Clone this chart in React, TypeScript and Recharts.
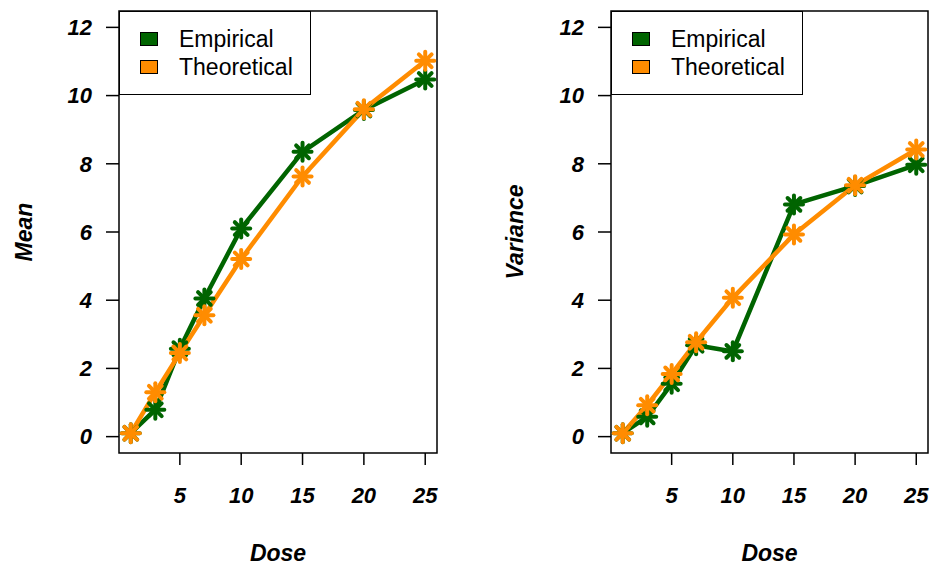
import React from "react";
import { Line, LineChart, ReferenceArea, XAxis, YAxis } from "recharts";

const doses = [1, 3, 5, 7, 10, 15, 20, 25];
const meanEmpirical = [0.1, 0.79, 2.58, 4.05, 6.1, 8.35, 9.58, 10.47];
const meanTheoretical = [0.1, 1.3, 2.45, 3.56, 5.21, 7.63, 9.6, 11.02];
const varEmpirical = [0.1, 0.58, 1.55, 2.68, 2.5, 6.81, 7.35, 7.97];
const varTheoretical = [0.1, 0.92, 1.84, 2.77, 4.07, 5.93, 7.37, 8.42];
const xTicks = [5, 10, 15, 20, 25];
const yTicks = [0, 2, 4, 6, 8, 10, 12];
const seriesNames = ["Empirical", "Theoretical"];

const GREEN = "#006400";
const ORANGE = "#FF8C00";
const FONT = '"Liberation Sans", Arial, Helvetica, sans-serif';
const X_DOMAIN = [0.04, 25.96];
const Y_DOMAIN = [-0.48, 12.48];
const TOP = 11;
const BOTTOM = 453;
const HEIGHT = 565;

const makeRows = (emp: number[], theo: number[]) =>
  doses.map((d, i) => ({ dose: d, empirical: emp[i], theoretical: theo[i] }));

// R's pch 8 (asterisk) drawn with a heavy pen
const Asterisk = (props: any) => {
  const { cx, cy, color } = props;
  if (cx == null || cy == null) return null;
  const r = 9;
  const d = r * Math.SQRT1_2;
  return (
    <g stroke={color} strokeWidth={4} strokeLinecap="round">
      <line x1={cx - r} y1={cy} x2={cx + r} y2={cy} />
      <line x1={cx} y1={cy - r} x2={cx} y2={cy + r} />
      <line x1={cx - d} y1={cy - d} x2={cx + d} y2={cy + d} />
      <line x1={cx - d} y1={cy + d} x2={cx + d} y2={cy - d} />
    </g>
  );
};

const tickStyle = { fill: "#000", fontSize: 22, fontWeight: "bold", fontStyle: "italic", fontFamily: FONT };

interface PanelProps {
  left: number;
  width: number;
  axisWidth: number;
  marginRight: number;
  yTitle: string;
  yTitleX: number;
  rows: Array<{ dose: number; empirical: number; theoretical: number }>;
}

function Panel({ left, width, axisWidth, marginRight, yTitle, yTitleX, rows }: PanelProps) {
  const plotCenterX = (axisWidth + width - marginRight) / 2;
  const plotCenterY = (TOP + BOTTOM) / 2;
  return (
    <div style={{ position: "absolute", left, top: 0, width, height: HEIGHT }}>
      <LineChart
        width={width}
        height={HEIGHT}
        data={rows}
        margin={{ top: TOP, right: marginRight, left: 0, bottom: 0 }}
      >
        <XAxis
          dataKey="dose"
          type="number"
          domain={X_DOMAIN}
          ticks={xTicks}
          allowDataOverflow
          axisLine={false}
          tickLine={{ stroke: "#000", strokeWidth: 1.5 }}
          tickSize={12}
          tickMargin={22}
          tick={tickStyle}
          height={HEIGHT - BOTTOM}
          label={() => (
            <text x={plotCenterX} y={561} textAnchor="middle" fontSize={23} fontWeight="bold" fontStyle="italic" fontFamily={FONT} fill="#000">
              Dose
            </text>
          )}
        />
        <YAxis
          type="number"
          domain={Y_DOMAIN}
          ticks={yTicks}
          allowDataOverflow
          axisLine={false}
          tickLine={{ stroke: "#000", strokeWidth: 1.5 }}
          tickSize={13}
          tickMargin={14}
          tick={tickStyle}
          width={axisWidth}
          label={() => (
            <text
              x={yTitleX}
              y={plotCenterY}
              transform={`rotate(-90, ${yTitleX}, ${plotCenterY})`}
              textAnchor="middle"
              fontSize={23}
              fontWeight="bold"
              fontStyle="italic"
              fontFamily={FONT}
              fill="#000"
            >
              {yTitle}
            </text>
          )}
        />
        <ReferenceArea
          x1={X_DOMAIN[0]}
          x2={X_DOMAIN[1]}
          y1={Y_DOMAIN[0]}
          y2={Y_DOMAIN[1]}
          fill="none"
          fillOpacity={0}
          stroke="#000"
          strokeWidth={1.5}
          ifOverflow="visible"
        />
        <Line
          dataKey="empirical"
          stroke={GREEN}
          strokeWidth={4.5}
          isAnimationActive={false}
          dot={(p: any) => <Asterisk key={`e${p.index}`} cx={p.cx} cy={p.cy} color={GREEN} />}
          activeDot={false}
        />
        <Line
          dataKey="theoretical"
          stroke={ORANGE}
          strokeWidth={4.5}
          isAnimationActive={false}
          dot={(p: any) => <Asterisk key={`t${p.index}`} cx={p.cx} cy={p.cy} color={ORANGE} />}
          activeDot={false}
        />
      </LineChart>
      <div
        style={{
          position: "absolute",
          left: axisWidth,
          top: TOP,
          width: 192,
          height: 84,
          border: "1.5px solid #000",
          boxSizing: "border-box",
          background: "#fff",
          fontFamily: FONT,
          fontSize: 23,
          color: "#000",
        }}
      >
        {seriesNames.map((name, i) => (
          <React.Fragment key={name}>
            <div
              style={{
                position: "absolute",
                left: 20,
                top: 19.5 + i * 28,
                width: 18,
                height: 14,
                boxSizing: "border-box",
                border: "1px solid #000",
                background: i === 0 ? GREEN : ORANGE,
              }}
            />
            <div style={{ position: "absolute", left: 59, top: 12.5 + i * 28, lineHeight: "28px", whiteSpace: "nowrap" }}>
              {name}
            </div>
          </React.Fragment>
        ))}
      </div>
    </div>
  );
}

export default function App() {
  return (
    <div style={{ position: "absolute", left: 0, top: 0, width: 931, height: HEIGHT, background: "#fff" }}>
      <Panel
        left={0}
        width={465}
        axisWidth={119}
        marginRight={28}
        yTitle="Mean"
        yTitleX={32}
        rows={makeRows(meanEmpirical, meanTheoretical)}
      />
      <Panel
        left={465}
        width={466}
        axisWidth={146}
        marginRight={3}
        yTitle="Variance"
        yTitleX={58}
        rows={makeRows(varEmpirical, varTheoretical)}
      />
    </div>
  );
}
